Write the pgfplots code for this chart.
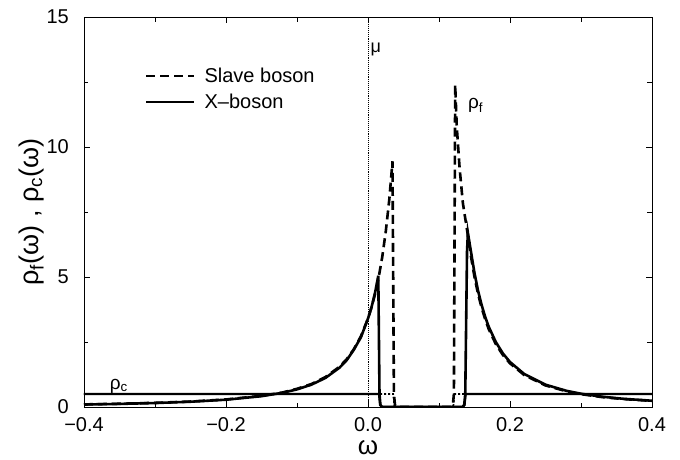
\documentclass[border=0pt]{standalone}
\usepackage{pgfplots}
\pgfplotsset{compat=1.18}
\usepackage{fontspec}
\setmainfont{Liberation Sans}
\begin{document}
\begin{tikzpicture}
\begin{axis}[
  scale only axis, width=568pt, height=390pt,
  at={(0,0)}, anchor=south west,
  xmin=-0.4, xmax=0.4, ymin=0, ymax=15,
  xtick={-0.4,-0.2,0,0.2,0.4},
  xticklabels={−0.4,−0.2,0.0,0.2,0.4},
  ytick={0,5,10,15},
  yticklabels={0,5,10,15},
  minor x tick num=1, minor y tick num=1,
  tick align=inside, tick pos=both,
  major tick length=6pt, minor tick length=4.5pt,
  every tick/.append style={black, line width=0.7pt},
  axis line style={line width=0.8pt},
  tick label style={font=\fontsize{20}{23}\selectfont, inner sep=1pt},
  xticklabel style={yshift=-9pt},
  yticklabel style={xshift=-14pt},
  xlabel={ω},
  ylabel={ρ\textsubscript{f}(ω) , ρ\textsubscript{c}(ω)},
  xlabel style={font=\fontsize{26}{28}\selectfont, inner sep=0pt, at={(axis description cs:0.5,-0.104)}, anchor=center},
  ylabel style={font=\fontsize{27}{30}\selectfont, inner sep=0pt, at={(axis description cs:-0.0925,0.5)}, anchor=center},
  legend style={at={(axis description cs:0.107,0.875)}, anchor=north west, draw=none, fill=none,
    font=\fontsize{20}{23}\selectfont, inner sep=0pt, row sep=6pt},
  legend cell align=left,
  legend image code/.code={\draw[#1] (0pt,0pt) -- (48pt,0pt); \path (55pt,0pt);},
]
% Slave boson rho_f (dashed)
\addplot[black, line width=2.6pt, dash pattern=on 9pt off 5pt] coordinates {
(-0.40,0.100) (-0.35,0.125) (-0.30,0.160) (-0.25,0.210) (-0.20,0.290) (-0.15,0.430)
(-0.12,0.560) (-0.10,0.700) (-0.08,0.880) (-0.06,1.150) (-0.04,1.550) (-0.03,1.840)
(-0.02,2.220) (-0.01,2.720) (0.000,3.400) (0.005,3.840) (0.010,4.350) (0.015,4.980)
(0.020,5.760) (0.025,6.740) (0.030,7.980) (0.0345,9.450) (0.0365,0.500) (0.038,0.080)
(0.041,0.000) (0.117,0.000) (0.1195,0.080) (0.121,0.500) (0.1228,12.40) (0.125,10.80)
(0.129,9.200) (0.1336,7.850) (0.1407,6.600) (0.145,5.800) (0.150,5.000) (0.155,4.350)
(0.160,3.820) (0.165,3.380) (0.170,3.000) (0.180,2.420) (0.190,2.000) (0.200,1.680)
(0.220,1.230) (0.250,0.830) (0.280,0.600) (0.300,0.495) (0.330,0.380) (0.360,0.305)
(0.400,0.235)
};
\addlegendentry{Slave boson}
% X-boson rho_f (solid)
\addplot[black, line width=2.6pt] coordinates {
(-0.40,0.096) (-0.35,0.119) (-0.30,0.153) (-0.25,0.203) (-0.20,0.281) (-0.15,0.416)
(-0.12,0.550) (-0.10,0.678) (-0.08,0.856) (-0.06,1.117) (-0.04,1.516) (-0.03,1.800)
(-0.02,2.200) (-0.01,2.680) (0.000,3.400) (0.005,3.840) (0.010,4.400) (0.0145,5.050)
(0.0162,0.500) (0.0175,0.080) (0.020,0.000) (0.133,0.000) (0.1355,0.080) (0.137,0.500)
(0.1395,6.000) (0.1407,6.700) (0.145,5.980) (0.150,5.150) (0.155,4.470) (0.160,3.930)
(0.165,3.470) (0.170,3.090) (0.180,2.500) (0.190,2.060) (0.200,1.730) (0.220,1.270)
(0.250,0.858) (0.280,0.619) (0.300,0.511) (0.330,0.395) (0.360,0.315) (0.400,0.241)
};
\addlegendentry{X–boson}
% rho_c slave boson (dashed)
\addplot[black, line width=1.6pt, dash pattern=on 2pt off 2pt, forget plot] coordinates {
(-0.40,0.5) (0.0355,0.5) (0.037,0.08) (0.040,0.0) (0.118,0.0) (0.1205,0.08) (0.1215,0.5) (0.40,0.5)
};
% rho_c X-boson (solid)
\addplot[black, line width=2.2pt, forget plot] coordinates {
(-0.40,0.5) (0.0155,0.5) (0.0170,0.08) (0.0195,0.0) (0.1335,0.0) (0.136,0.08) (0.1375,0.5) (0.40,0.5)
};
% chemical potential
\addplot[black, line width=0.9pt, densely dotted, forget plot] coordinates {(0,0) (0,15)};
\node[font=\fontsize{18}{20}\selectfont, anchor=west, inner sep=1pt] at (axis cs:0.002,13.75) {μ};
\node[font=\fontsize{19}{21}\selectfont, anchor=center, inner sep=0pt] at (axis cs:0.1516,11.6) {ρ\textsubscript{f}};
\node[font=\fontsize{19}{21}\selectfont, anchor=center, inner sep=0pt] at (axis cs:-0.351,0.80) {ρ\textsubscript{c}};
\end{axis}
\pgfresetboundingbox
\useasboundingbox (-84pt,-52pt) rectangle (596pt,407pt);
\end{tikzpicture}
\end{document}
